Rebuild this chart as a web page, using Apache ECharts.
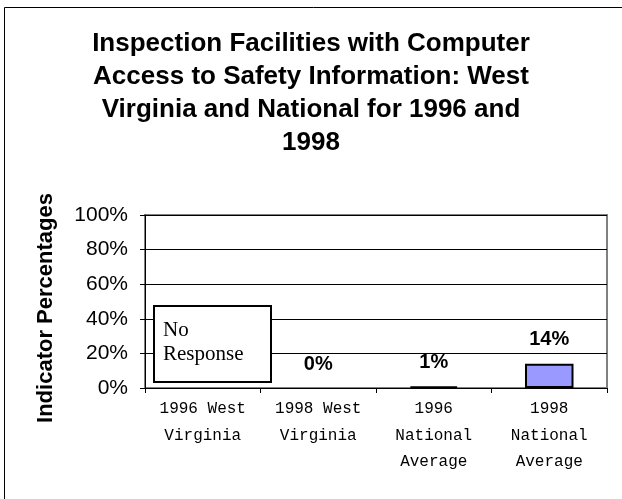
<!doctype html>
<html>
<head>
<meta charset="utf-8">
<script src="https://cdn.jsdelivr.net/npm/echarts@6/dist/echarts.min.js"></script>
<style>
  html, body { margin: 0; padding: 0; background: #fff; }
  #chart { width: 622px; height: 499px; }
</style>
</head>
<body>
<div id="chart"></div>
<script>
// chart data
const categories = ['1996 West\nVirginia', '1998 West\nVirginia', '1996\nNational\nAverage', '1998\nNational\nAverage'];
const values = [null, 0, 1, 14];
const barColors = ['#ffffff', '#ffffff', '#333366', '#9999ff'];
const yTicks = [0, 20, 40, 60, 80, 100];
const noteText = 'No\nResponse';

const chart = echarts.init(document.getElementById('chart'), null, { renderer: 'canvas' });

chart.setOption({
  backgroundColor: '#ffffff',
  animation: false,
  title: {
    text: 'Inspection Facilities with Computer\nAccess to Safety Information: West\nVirginia and National for 1996 and\n1998',
    left: 'center',
    top: 22,
    textStyle: { fontFamily: 'Liberation Sans', fontWeight: 'bold', fontSize: 26, lineHeight: 33, color: '#000' }
  },
  grid: { left: 145, top: 215, width: 462, height: 173, show: true, borderColor: '#808080', borderWidth: 2, containLabel: false },
  xAxis: {
    type: 'category',
    data: categories,
    axisLine: { lineStyle: { color: '#000', width: 1 } },
    axisTick: { show: true, length: 5, lineStyle: { color: '#000' } },
    axisLabel: { interval: 0, margin: 8, fontFamily: 'Liberation Mono', fontSize: 16, lineHeight: 26.5, color: '#000' }
  },
  yAxis: {
    type: 'value',
    min: yTicks[0],
    max: yTicks[yTicks.length - 1],
    interval: 20,
    name: 'Indicator Percentages',
    nameLocation: 'middle',
    nameGap: 88,
    nameTextStyle: { fontFamily: 'Liberation Sans', fontWeight: 'bold', fontSize: 22, color: '#000', padding: [0, 13, 0, 0] },
    axisLine: { show: true, lineStyle: { color: '#000', width: 1 } },
    axisTick: { show: true, length: 5, lineStyle: { color: '#000' } },
    axisLabel: { margin: 17, formatter: '{value}%', fontFamily: 'Liberation Sans', fontSize: 21, color: '#000' },
    splitLine: { show: true, lineStyle: { color: '#000', width: 1 } }
  },
  series: [{
    type: 'bar',
    barWidth: '42%',
    data: values.map((v, i) => ({
      value: v,
      itemStyle: { color: barColors[i], borderColor: '#000', borderWidth: v ? 2 : 0 }
    })),
    label: {
      show: true,
      position: 'top',
      distance: 14,
      formatter: p => (p.value == null ? '' : p.value + '%'),
      fontFamily: 'Liberation Sans', fontWeight: 'bold', fontSize: 20, color: '#000'
    }
  }],
  graphic: [
    {
      type: 'rect', silent: true,
      shape: { x: 4.5, y: 7.5, width: 640, height: 520 },
      style: { fill: 'none', stroke: '#000', lineWidth: 1 }
    },
    {
      type: 'rect', z: 10,
      shape: { x: 154, y: 306, width: 117, height: 76 },
      style: { fill: '#fff', stroke: '#000', lineWidth: 2 }
    },
    {
      type: 'text', left: 163, top: 318, z: 11,
      style: { text: noteText, fontFamily: 'Liberation Serif', fontSize: 21, lineHeight: 24, fill: '#000' }
    }
  ]
});
</script>
</body>
</html>
